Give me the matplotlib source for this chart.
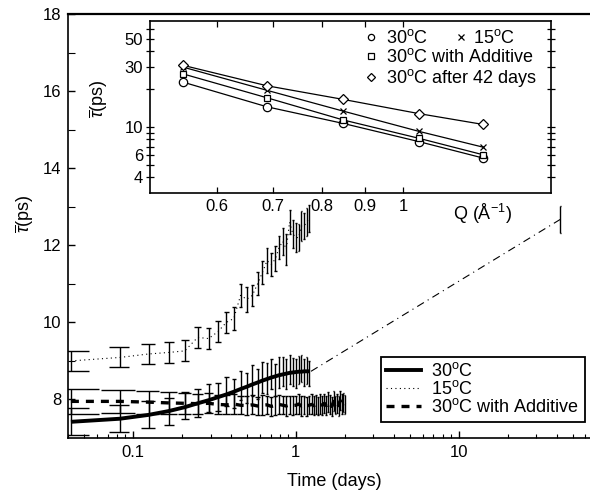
import matplotlib
matplotlib.use('Agg')
import matplotlib.pyplot as plt
import numpy as np
from matplotlib.lines import Line2D

plt.rcParams['font.family'] = ['Liberation Sans', 'DejaVu Sans']
plt.rcParams['mathtext.fontset'] = 'custom'
plt.rcParams['mathtext.rm'] = 'Liberation Sans'
plt.rcParams['mathtext.it'] = 'Liberation Sans:italic'

# ---- main panel data (time in days, tau in ps) ----
hours_30 = np.arange(1, 30)
t_30 = hours_30 / 24.0
tau30_fit = [7.42, 7.50, 7.60, 7.70, 7.80, 7.90, 7.98, 8.06, 8.13, 8.20,
             8.27, 8.33, 8.39, 8.44, 8.49, 8.53, 8.57, 8.60, 8.63, 8.65,
             8.67, 8.69, 8.70, 8.71, 8.72, 8.72, 8.73, 8.73, 8.73]
tau30_pts = [7.42, 7.50, 7.62, 7.68, 7.85, 7.90, 8.04, 8.06, 8.20, 8.16,
             8.36, 8.30, 8.50, 8.40, 8.58, 8.55, 8.66, 8.50, 8.70, 8.72,
             8.66, 8.78, 8.72, 8.68, 8.76, 8.80, 8.70, 8.75, 8.68]
err30 = [0.35, 0.35, 0.35, 0.35, 0.35, 0.36, 0.36, 0.36, 0.37, 0.37,
         0.38, 0.38, 0.40, 0.40, 0.40, 0.40, 0.40, 0.42, 0.40, 0.38,
         0.40, 0.38, 0.36, 0.38, 0.36, 0.36, 0.36, 0.34, 0.32]

hours_15 = np.arange(1, 30)
t_15 = hours_15 / 24.0
tau15 = [9.00, 9.09, 9.18, 9.22, 9.26, 9.61, 9.58, 9.76, 10.00, 10.10,
         10.70, 10.60, 10.70, 11.00, 11.30, 11.60, 11.50, 11.65, 11.95, 12.10,
         11.90, 12.60, 12.30, 12.20, 12.20, 12.50, 12.50, 12.60, 12.70]
err15 = [0.27, 0.26, 0.27, 0.27, 0.27, 0.28, 0.28, 0.28, 0.28, 0.30,
         0.30, 0.32, 0.28, 0.30, 0.30, 0.32, 0.31, 0.32, 0.30, 0.35,
         0.40, 0.32, 0.36, 0.37, 0.36, 0.38, 0.33, 0.36, 0.35]

hours_add = np.arange(1, 49)
t_add = hours_add / 24.0
tau_add = [7.95, 7.95, 7.93, 7.91, 7.90, 7.89, 7.90, 7.87, 7.86, 7.88,
           7.85, 7.84, 7.86, 7.83, 7.85, 7.86, 7.82, 7.84, 7.87, 7.85,
           7.83, 7.86, 7.84, 7.85, 7.88, 7.83, 7.86, 7.82, 7.85, 7.87,
           7.84, 7.86, 7.83, 7.88, 7.85, 7.90, 7.84, 7.93, 7.87, 7.82,
           7.95, 7.86, 7.90, 7.84, 7.97, 7.88, 7.92, 7.86]
err_add = [0.32, 0.30, 0.30, 0.28, 0.27, 0.26, 0.26, 0.25, 0.25, 0.25,
           0.24, 0.24, 0.25, 0.24, 0.26, 0.24, 0.25, 0.24, 0.25, 0.24,
           0.25, 0.24, 0.25, 0.24, 0.26, 0.25, 0.24, 0.25, 0.24, 0.26,
           0.24, 0.25, 0.24, 0.26, 0.25, 0.24, 0.25, 0.26, 0.24, 0.25,
           0.26, 0.24, 0.25, 0.26, 0.24, 0.25, 0.24, 0.25]

t_aged = [1.24, 42.0]
tau_aged = [8.73, 12.67]
err_aged = [0.0, 0.34]

# ---- inset data (Q in 1/A, tau in ps) ----
Q = [0.547, 0.689, 0.849, 1.045, 1.246]
tauQ_30 = [22.8, 14.5, 10.7, 7.67, 5.68]
tauQ_15 = [30.0, 19.6, 13.4, 9.25, 6.93]
tauQ_add = [26.5, 17.1, 11.4, 8.15, 6.03]
tauQ_42 = [31.0, 21.3, 16.6, 12.8, 10.5]

lab30 = r'30$^{\mathrm{o}}$C'
lab15 = r'15$^{\mathrm{o}}$C'
labadd = r'30$^{\mathrm{o}}$C with Additive'
lab42 = r'30$^{\mathrm{o}}$C after 42 days'


def bars(ax, x, y, e, w, lw=1.0):
    x = np.asarray(x); y = np.asarray(y); e = np.asarray(e)
    ax.vlines(x, y - e, y + e, color='k', lw=lw)
    ax.hlines(y + e, x - w, x + w, color='k', lw=lw)
    ax.hlines(y - e, x - w, x + w, color='k', lw=lw)


fig = plt.figure(figsize=(5.9, 4.95), dpi=100)
ax = fig.add_axes([68 / 590, 57 / 495, 522 / 590, 424 / 495])

bars(ax, t_15, tau15, err15, 0.012)
bars(ax, t_30, tau30_pts, err30, 0.012)
bars(ax, t_add, tau_add, err_add, 0.02)
bars(ax, t_aged[1:], tau_aged[1:], err_aged[1:], 0.4)

ax.plot(t_15, tau15, color='k', lw=0.8, ls=(0, (1, 3)))
ax.plot(t_add, tau_add, color='k', lw=2.4, ls=(0, (2.4, 2.1)))
ax.plot(t_30, tau30_fit, color='k', lw=2.8, solid_capstyle='butt')
ax.plot(t_aged, tau_aged, color='k', lw=0.8, ls=(0, (7, 4, 1, 4)))

ax.set_xscale('log')
ax.set_xlim(0.04, 64)
ax.set_ylim(7, 18)
ax.set_xticks([0.1, 1, 10])
ax.set_xticklabels(['0.1', '1', '10'])
ax.set_yticks([8, 10, 12, 14, 16, 18])
ax.set_yticks([9, 11, 13, 15, 17], minor=True)
ax.tick_params(which='both', direction='in', labelsize=12, right=False, top=False)
ax.tick_params(which='major', length=5, width=1, pad=5)
ax.tick_params(which='minor', length=3, width=0.8)
ax.tick_params(axis='y', which='minor', length=5)
ax.spines['right'].set_visible(False)
ax.spines['top'].set_linewidth(1.6)
ax.spines['left'].set_linewidth(1.2)
ax.spines['bottom'].set_linewidth(1.2)

ax.set_xlabel('Time (days)', fontsize=13)
ax.xaxis.set_label_coords(0.51, -0.083)
ax.set_ylabel(r'$\overline{\tau}$(ps)', fontsize=13)
ax.yaxis.set_label_coords(-0.062, 0.53)

handles = [Line2D([], [], color='k', lw=2.8),
           Line2D([], [], color='k', lw=0.8, ls=(0, (1, 3))),
           Line2D([], [], color='k', lw=2.4, ls=(0, (2.4, 2.1)))]
leg = ax.legend(handles, [lab30, lab15, labadd], loc='lower right',
                bbox_to_anchor=(0.99, 0.038), fontsize=13, fancybox=False,
                edgecolor='k', framealpha=1, handlelength=1.9,
                labelspacing=0.0, borderpad=0.3, handletextpad=0.6,
                borderaxespad=0)
leg.get_frame().set_linewidth(1.3)

# ---- inset ----
ai = fig.add_axes([150 / 590, 302 / 495, 401 / 590, 172.3 / 495])
ai.set_xscale('log')
ai.set_yscale('log')
mk = dict(color='k', lw=0.9, mfc='white', mec='k', mew=0.9)
l30, = ai.plot(Q, tauQ_30, marker='o', ms=6, **mk)
l15, = ai.plot(Q, tauQ_15, marker='x', ms=5, **mk)
ladd, = ai.plot(Q, tauQ_add, marker='s', ms=5, **mk)
l42, = ai.plot(Q, tauQ_42, marker='D', ms=5, **mk)
ai.set_xlim(0.5, 1.5)
ai.set_ylim(3, 70)
ai.set_xticks([0.6, 0.7, 0.8, 0.9, 1.0])
ai.set_xticklabels(['0.6', '0.7', '0.8', '0.9', '1'])
ai.xaxis.set_minor_locator(matplotlib.ticker.NullLocator())
ai.set_yticks([4, 6, 10, 30, 50])
ai.set_yticklabels(['4', '6', '10', '30', '50'])
ai.set_yticks([5, 7, 8, 9, 20, 40, 60], minor=True)
ai.yaxis.set_minor_formatter(matplotlib.ticker.NullFormatter())
ai.tick_params(axis='y', which='both', direction='inout', length=6, width=0.9,
               left=True, right=True, labelsize=12, pad=2)
ai.tick_params(axis='x', which='both', direction='in', length=4, width=0.9,
               top=True, bottom=True, labelsize=12, pad=4)
for s in ai.spines.values():
    s.set_linewidth(1.2)
ai.set_ylabel(r'$\overline{\tau}$(ps)', fontsize=13)
ai.yaxis.set_label_coords(-0.1, 0.55)
ai.set_xlabel(r'Q ($\mathrm{\AA}^{-1}$)', fontsize=13)
ai.xaxis.set_label_coords(0.83, -0.05)

leg1 = ai.legend([l30, ladd, l42], [lab30, labadd, lab42], loc='upper left',
                 bbox_to_anchor=(0.53, 0.95), frameon=False, fontsize=13,
                 handlelength=0.9, handletextpad=0.4, labelspacing=0.05,
                 borderaxespad=0, borderpad=0, markerscale=0.75)
for h in leg1.legend_handles:
    h.set_linestyle('none')
ai.add_artist(leg1)
leg2 = ai.legend([l15], [lab15], loc='upper left', bbox_to_anchor=(0.755, 0.95),
                 frameon=False, fontsize=13, handlelength=0.9,
                 handletextpad=0.2, borderaxespad=0, borderpad=0, markerscale=0.75)
for h in leg2.legend_handles:
    h.set_linestyle('none')

fig.savefig('out.png', dpi=100)
